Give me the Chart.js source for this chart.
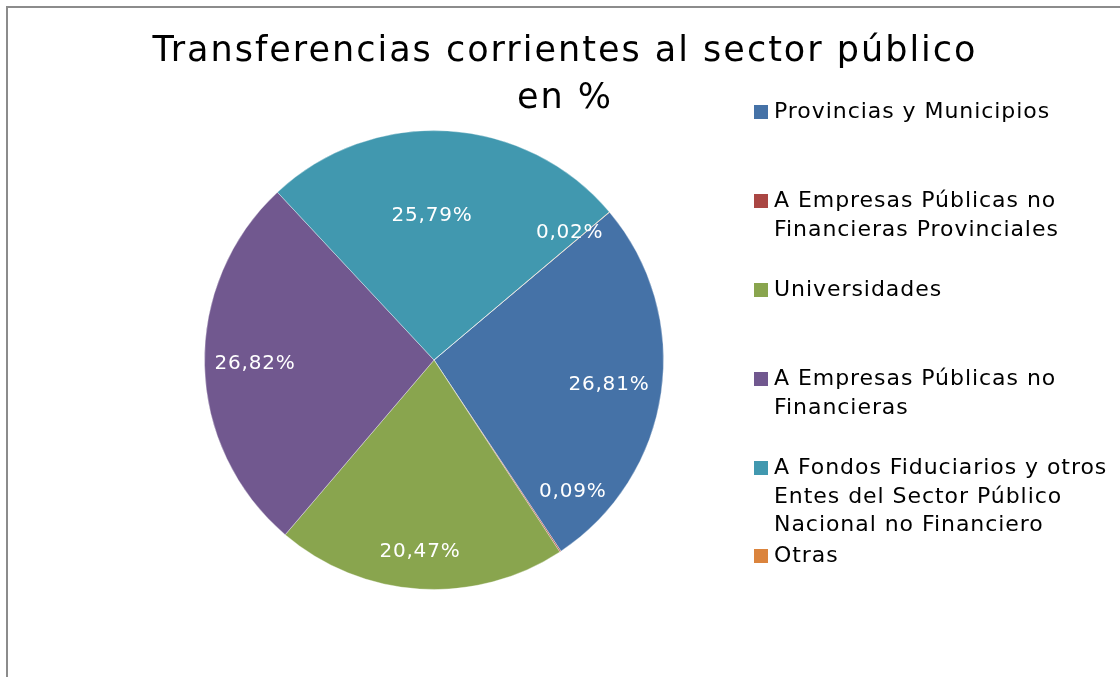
<!DOCTYPE html>
<html>
<head>
<meta charset="utf-8">
<script src="https://cdn.jsdelivr.net/npm/chart.js@4/dist/chart.umd.min.js"></script>
<style>
    html, body { margin: 0; padding: 0; background: #fff; }
    .wrap { position: relative; width: 1120px; height: 677px; overflow: hidden; font-family: "DejaVu Sans", sans-serif; }
    .frame { position: absolute; left: 6px; top: 6px; width: 1200px; height: 800px; border-left: 2px solid #8c8c8c; border-top: 2px solid #8c8c8c; }
    canvas { position: absolute; left: 0; top: 0; }
    .title { position: absolute; left: 0; top: 26px; width: 1130px; text-align: center; font-size: 35px; line-height: 47px; letter-spacing: 2px; color: #000; }
    .legend { position: absolute; left: 754px; top: 0; }
    .legend-item { position: absolute; left: 0; white-space: nowrap; font-size: 22px; line-height: 28.7px; letter-spacing: 0.95px; color: #000; }
    .legend-item .box { position: absolute; left: 0; top: 8px; width: 14px; height: 14px; }
    .legend-item span { display: block; padding-left: 20px; }
</style>
</head>
<body>
<div class="wrap">
    <div class="frame"></div>
    <canvas id="pieChart" width="1120" height="677"></canvas>
    <div class="title">Transferencias corrientes al sector público<br>en %</div>
    <div class="legend" id="legend"></div>
</div>
<script>
// Data
const categories = [
    'Provincias y Municipios',
    'A Empresas Públicas no\nFinancieras Provinciales',
    'Universidades',
    'A Empresas Públicas no\nFinancieras',
    'A Fondos Fiduciarios y otros\nEntes del Sector Público\nNacional no Financiero',
    'Otras'
];
const shares = [26.81, 0.09, 20.47, 26.82, 25.79, 0.02];
const colors = ['#4572a7', '#aa4643', '#89a54e', '#71588f', '#4198af', '#db843d'];

// label placement (fraction of radius, angle shift in degrees) - Excel best fit look
const labelRadius = [0.77, 0.835, 0.84, 0.78, 0.63, 0.81];
const labelShift = [0, -13, 0.6, 0, -4.2, -3];
const legendTops = [97, 186, 275, 364, 453, 541];

function fmt(v) {
    return v.toFixed(2).replace('.', ',') + '%';
}

// Percent labels inside slices
const sliceLabels = {
    id: 'sliceLabels',
    afterDatasetsDraw(chart) {
        const ctx = chart.ctx;
        const meta = chart.getDatasetMeta(0);
        ctx.save();
        ctx.fillStyle = '#ffffff';
        ctx.font = '20px "DejaVu Sans", sans-serif';
        ctx.letterSpacing = '0.8px';
        ctx.textAlign = 'center';
        ctx.textBaseline = 'middle';
        meta.data.forEach((arc, i) => {
            const p = arc.getProps(['x', 'y', 'startAngle', 'endAngle', 'outerRadius'], true);
            const mid = (p.startAngle + p.endAngle) / 2 + labelShift[i] * Math.PI / 180;
            const r = p.outerRadius * labelRadius[i];
            ctx.fillText(fmt(shares[i]), p.x + Math.cos(mid) * r, p.y + Math.sin(mid) * r);
        });
        ctx.restore();
    }
};

new Chart(document.getElementById('pieChart'), {
    type: 'pie',
    data: {
        labels: categories,
        datasets: [{
            data: shares,
            backgroundColor: colors,
            borderColor: 'rgba(255,255,255,0.35)',
            borderWidth: 1
        }]
    },
    options: {
        responsive: false,
        animation: false,
        rotation: 49.9,
        layout: { padding: { left: 204, top: 130, right: 456, bottom: 87 } },
        plugins: {
            legend: { display: false },
            title: { display: false },
            tooltip: { enabled: false }
        }
    },
    plugins: [sliceLabels]
});

// Legend
const legendEl = document.getElementById('legend');
categories.forEach((name, i) => {
    const item = document.createElement('div');
    item.className = 'legend-item';
    item.style.top = legendTops[i] + 'px';
    item.innerHTML = `<div class="box" style="background:${colors[i]}"></div><span>${name.replace(/\n/g, '<br>')}</span>`;
    legendEl.appendChild(item);
});
</script>
</body>
</html>
